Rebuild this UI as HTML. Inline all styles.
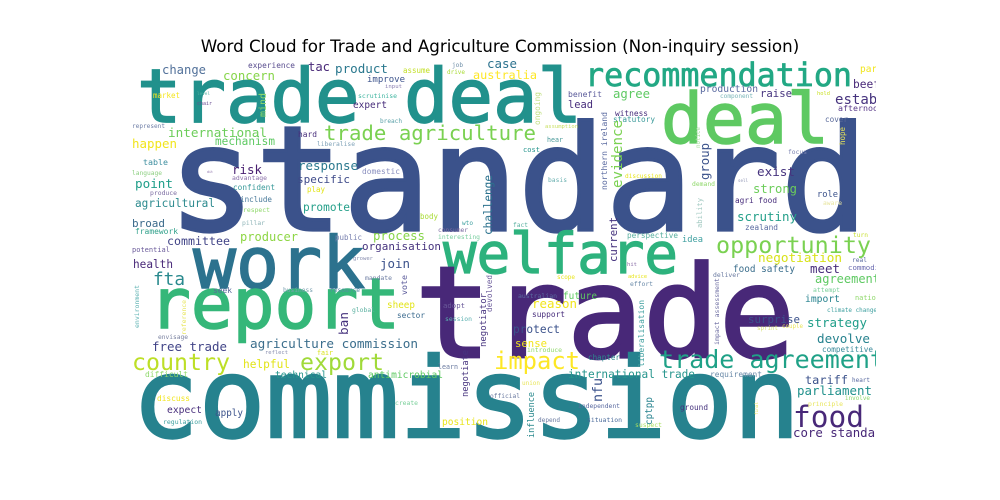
<!DOCTYPE html>
<html><head><meta charset="utf-8"><style>
html,body{margin:0;padding:0;background:#fff;width:1000px;height:500px;overflow:hidden}
svg{display:block}
</style></head><body>
<svg id="chart" width="1000" height="500" viewBox="0 0 1000 500" xmlns="http://www.w3.org/2000/svg">
<rect width="1000" height="500" fill="#fff"/>
<text x="500" y="52" text-anchor="middle" font-family="DejaVu Sans, Liberation Sans, sans-serif" font-size="16.7" fill="#000">Word Cloud for Trade and Agriculture Commission (Non-inquiry session)</text>
<defs><clipPath id="cloudclip"><rect x="125" y="60" width="751" height="380"/></clipPath></defs>
<g id="cloud" clip-path="url(#cloudclip)"></g>
</svg>
<script>
// horizontal words: [text, left x, baseline y, width, colour]
const hWords = [
["trade deal",137,122,445,"#21918c"],["deal",661,143,168,"#5ec962"],["recommendation",585,86,267,"#22a884"],
["standard",168,230,700,"#3b528b"],["welfare",443,273,235,"#2db27d"],["opportunity",716,253,155,"#7ad151"],
["work",193,288,172,"#2c728e"],["report",149,328,251,"#35b779"],["trade",415,357,380,"#482878"],
["commission",132,437,668,"#26828e"],["country",132,370,98,"#bddf26"],["export",300,370,84,"#a0da39"],
["impact",494,369,86,"#fde725"],["trade agreement",659,368,226,"#1fa187"],["food",793,427,71,"#482878"],
["trade agriculture",324,140,212,"#7ad151"],["core standard",793,437,97,"#482878"],
["change",162,74,44,"#52719a"],["concern",223,80,52,"#86d549"],["tac",308,71,22,"#482878"],["product",335,73,53,"#2a788e"],
["experience",248,68,47,"#5a4e8f"],["assume",403,73,27,"#c2df23"],["job",452,67,11,"#6f8fa8"],["drive",447,74,18,"#a8db34"],
["case",487,68,30,"#2c728e"],["australia",473,79,64,"#fde725"],["improve",367,82,38,"#3b528b"],["input",385,88,17,"#8a7fb0"],
["market",153,98,27,"#f4e61e"],["level",197,95,13,"#4fb0a0"],["chair",197,105,15,"#6a4c93"],["scrutinise",358,98,39,"#3fb5a0"],
["expert",353,108,34,"#472d7b"],["breach",380,123,22,"#5aa0a8"],["represent",132,128,33,"#6f7fa7"],
["international",168,137,99,"#6ccd5a"],["happen",132,148,45,"#f1e51d"],["mechanism",215,145,60,"#5ec962"],
["hard",298,137,19,"#472d7b"],["liberalise",317,146,38,"#7fa2b8"],["table",143,165,25,"#3f8fa0"],["risk",232,174,30,"#481f70"],
["response",298,170,60,"#2a788e"],["language",132,175,30,"#8ccf80"],["dit",207,173,6,"#8a6fa8"],["domestic",362,174,38,"#8a8fbf"],
["advantage",232,180,35,"#8a6fa8"],["specific",297,183,53,"#3e4a89"],["point",135,188,38,"#1f9e89"],["produce",150,195,27,"#7a6aa0"],
["confident",233,190,42,"#3a9a9a"],["play",307,192,18,"#e2e418"],["include",240,202,32,"#4a7a9a"],["agricultural",135,207,80,"#2c8a8e"],
["promote",303,211,47,"#26a08a"],["respect",243,212,27,"#8fd86a"],["body",420,219,18,"#a8db34"],["broad",132,227,33,"#3b6a8b"],
["pillar",242,225,23,"#8fb5b8"],["wto",462,225,11,"#3fa0a0"],["framework",135,234,43,"#2fa08a"],["consumer",438,232,30,"#7a6aa0"],
["interesting",438,239,42,"#7acfa0"],["committee",167,245,63,"#414487"],["producer",240,241,58,"#8ed645"],["process",373,240,52,"#86d549"],
["public",335,240,27,"#7a82b0"],["organisation",362,250,79,"#46337e"],["potential",132,252,38,"#6a5a9a"],["health",133,268,40,"#482878"],
["join",380,268,30,"#3b528b"],["grower",353,260,20,"#8a8fb0"],["mandate",365,280,27,"#6a7aa0"],["fta",153,285,32,"#2a8a8e"],
["seek",213,293,19,"#5a6a9a"],["business",283,292,30,"#7aa0b0"],["resource",330,292,30,"#5a8aa8"],["sheep",387,308,28,"#e2e418"],
["adopt",443,308,22,"#6a5a9a"],["global",352,312,23,"#5ab0a0"],["sector",397,318,28,"#3a6a8e"],["session",445,321,27,"#5ab0b0"],
["envisage",158,339,30,"#7a82a0"],["free trade",152,351,75,"#414487"],["agriculture commission",250,348,168,"#3b6e8c"],
["reflect",265,354,23,"#8a8fb0"],["fair",317,355,16,"#d8e219"],["helpful",243,368,47,"#e2e418"],["difficult",145,377,43,"#8fd86a"],
["technical",275,378,52,"#26958d"],["antimicrobial",368,378,75,"#5ec962"],["learn",438,369,20,"#6a7aa0"],["discuss",157,401,33,"#f1e51d"],
["create",395,405,23,"#7acf9a"],["expect",167,413,35,"#472d7b"],["apply",215,416,28,"#3b528b"],["position",442,425,46,"#e8e51b"],
["regulation",163,424,39,"#3fa0a0"],["official",490,398,30,"#6a7aa0"],["benefit",568,97,34,"#5a5a9a"],["agree",613,98,37,"#5ec962"],
["lead",568,108,25,"#472d7b"],["production",700,92,58,"#5a6aa0"],["component",720,98,33,"#7ab5b8"],["raise",760,97,32,"#46337e"],
["beef",853,88,27,"#482878"],["hold",817,95,13,"#c8e020"],["establish",835,104,76,"#46337e"],["afternoon",838,111,45,"#5a3a8a"],
["partner",860,72,40,"#f1e51d"],["witness",615,116,33,"#472d7b"],["statutory",613,122,42,"#3a9a9a"],["assumption",545,128,33,"#c8df60"],
["cover",825,122,23,"#5a6a9a"],["hear",547,142,16,"#4a9a9a"],["cost",523,152,17,"#26958d"],["focus",788,154,19,"#7a82b0"],
["exist",757,176,38,"#46337e"],["discussion",625,178,37,"#e8e51b"],["basis",548,182,19,"#6ab0b0"],["demand",692,186,23,"#8fd86a"],
["sell",738,182,10,"#8a8fb0"],["strong",753,193,44,"#6ccd5a"],["role",817,197,21,"#3b528b"],["agri food",735,203,42,"#472d7b"],
["aware",823,205,19,"#e8e5a0"],["scrutiny",737,221,60,"#25a08a"],["fact",513,227,15,"#5ab0a0"],["zealand",745,230,33,"#5a6aa0"],
["perspective",627,238,51,"#5ab0a0"],["idea",682,242,21,"#3fa0a0"],["turn",853,237,15,"#c8df30"],["negotiation",758,262,84,"#d8e219"],
["real",852,262,15,"#5a6aa0"],["hit",627,266,10,"#8a6fa8"],["food safety",733,272,62,"#3b6e8c"],["meet",810,273,30,"#472d7b"],
["commodity",848,270,40,"#6a6ab0"],["scope",557,279,18,"#e8e51b"],["advice",628,278,19,"#e8e51b"],["deliver",713,277,27,"#6a7aa0"],
["effort",630,286,23,"#6a8aa8"],["agreement",815,283,65,"#5ec962"],["attempt",813,292,27,"#7acf9a"],["australian",518,298,39,"#5a6aa0"],
["future",563,299,34,"#5ec962"],["import",805,302,35,"#26828e"],["nation",855,300,25,"#8fd86a"],["reason",532,308,45,"#f1e51d"],
["climate change",827,312,50,"#3fa0a0"],["support",532,317,33,"#472d7b"],["surprise",748,323,52,"#3b528b"],["sprint",757,330,21,"#d8e27a"],
["couple",782,328,21,"#e8e55a"],["strategy",807,327,60,"#1f9e89"],["protect",513,333,47,"#3b528b"],["sense",515,347,32,"#f1e51d"],
["devolve",817,343,53,"#26828e"],["introduce",527,352,35,"#8fd86a"],["competitive",822,352,51,"#3a8a9a"],["chapter",588,360,32,"#2c8a8e"],
["international trade",568,378,127,"#26958d"],["requirement",710,377,52,"#6a8aa8"],["tariff",805,384,43,"#3b528b"],["heart",852,382,18,"#5a6aa0"],
["union",522,385,18,"#e8e55a"],["parliament",797,395,75,"#21918c"],["independent",578,408,42,"#5a6aa0"],["ground",680,410,28,"#46337e"],
["principle",808,406,35,"#e8e55a"],["involve",845,400,25,"#8fd86a"],["depend",538,422,22,"#6a7aa0"],["situation",587,422,35,"#4a6a9a"],
["suspect",635,427,27,"#a8df60"]
];
// vertical words: [text, baseline x, bottom y, length, colour]
const vWords = [
["mind",266,117,24,"#8fd86a"],["ongoing",540,125,33,"#c0df80"],["northern ireland",607,190,78,"#5a6aa0"],
["evidence",622,188,68,"#7ad151"],["group",709,180,37,"#3b528b"],["hope",845,145,18,"#e8e55a"],["notice",700,148,21,"#a8dfa0"],
["ability",702,228,30,"#a0c8c0"],["current",617,262,45,"#46337e"],["challenge",492,235,60,"#2c728e"],["vote",407,295,20,"#5a5a9a"],
["devolved",492,312,37,"#6a5a9a"],["environment",139,328,43,"#5ab0b0"],["reference",186,335,35,"#e8e55a"],["ban",348,335,23,"#46337e"],
["negotiator",486,347,54,"#46337e"],["negotiate",468,397,47,"#46337e"],["cptpp",652,425,28,"#26828e"],["nfu",602,402,24,"#3b528b"],
["influence",534,438,46,"#2c8a8e"],["impact assessment",719,345,67,"#6a6aa0"],["liberalisation",644,367,67,"#3fa0a0"],["final",758,415,13,"#e8e55a"]
];
const NS = "http://www.w3.org/2000/svg";
const g = document.getElementById("cloud");
function slug(t){return "word-" + t.replace(/\s+/g,"-");}
function makeText(w, vertical){
  const t = document.createElementNS(NS,"text");
  const size = w[3] / (w[0].length * 0.602);
  t.setAttribute("font-family","DejaVu Sans Mono, Liberation Mono, monospace");
  t.setAttribute("font-size", size.toFixed(2));
  t.setAttribute("fill", w[4]);
  if (size > 30) {
    t.setAttribute("stroke", w[4]);
    t.setAttribute("stroke-width", (size * 0.022).toFixed(2));
  }
  t.setAttribute("textLength", w[3]);
  t.setAttribute("lengthAdjust","spacingAndGlyphs");
  if (vertical) {
    t.setAttribute("transform","translate(" + w[1] + "," + w[2] + ") rotate(-90)");
    t.setAttribute("x", 0); t.setAttribute("y", 0);
  } else {
    t.setAttribute("x", w[1]); t.setAttribute("y", w[2]);
  }
  
  
  t.textContent = w[0];
  g.appendChild(t);
}
hWords.forEach(w => makeText(w, false));
vWords.forEach(w => makeText(w, true));
</script>
</body></html>
